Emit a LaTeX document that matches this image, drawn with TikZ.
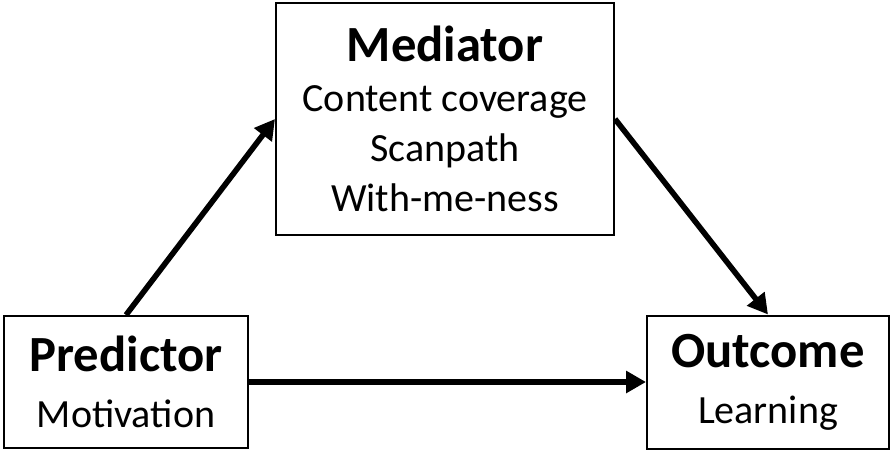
\documentclass[tikz,border=0pt]{standalone}
\usepackage{fontspec}
\setmainfont{Carlito}
\usetikzlibrary{arrows.meta, positioning}

\begin{document}
\begin{tikzpicture}[
  x=0.75pt, y=-0.75pt,
  box/.style={draw, line width=1.5pt, inner sep=0pt, align=center,
    font=\fontsize{30}{37}\selectfont},
  arr/.style={-{Triangle[length=15pt, width=16pt]}, line width=4.2pt}
]
\useasboundingbox (0,0) rectangle (894,451);

\node[box, minimum width=183pt, minimum height=99pt] (pred) at (126,382)
  {{\fontsize{38}{40}\selectfont\bfseries Predictor}\\[5pt] Motivation};
\node[box, minimum width=253.5pt, minimum height=174pt] (med) at (445,119)
  {{\fontsize{38}{40}\selectfont\bfseries Mediator}\\[1pt] Content coverage\\ Scanpath\\[1pt] With-me-ness};
\node[box, minimum width=181.5pt, minimum height=99.75pt] (outc) at (768,382)
  {{\fontsize{38}{40}\selectfont\bfseries Outcome}\\[5pt] Learning};

\draw[arr] (pred.north) -- (med.west);
\draw[arr] (med.east) -- (outc.north);
\draw[arr] (pred.east) -- (outc.west);
\end{tikzpicture}
\end{document}
